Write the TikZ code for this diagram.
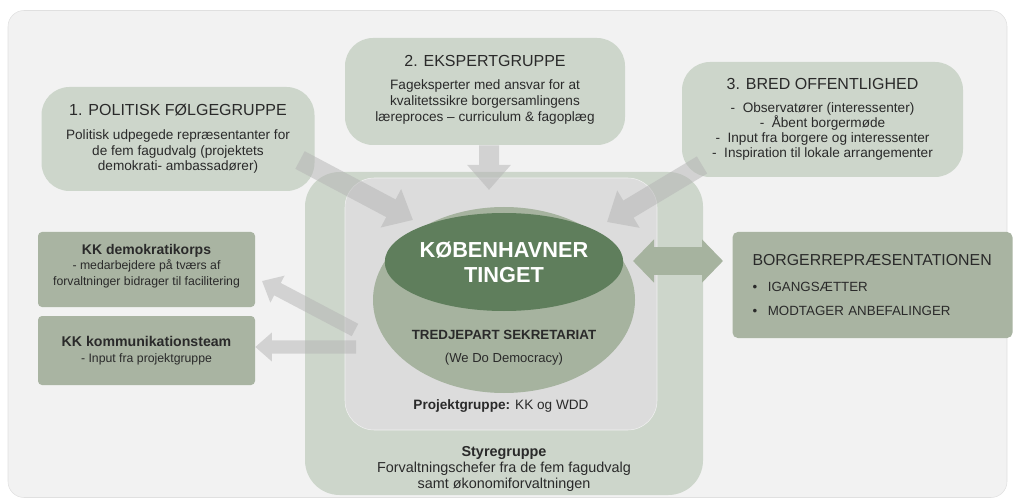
\documentclass[tikz,border=0pt]{standalone}
\usepackage{fontspec}
\setmainfont{Liberation Sans}
\usetikzlibrary{arrows.meta}
\usetikzlibrary{shapes.geometric}

\definecolor{bgframe}{HTML}{F2F2F2}
\definecolor{sagelight}{HTML}{CDD6CB}
\definecolor{sagemid}{HTML}{A6B39F}
\definecolor{sagedark}{HTML}{5F7E5C}
\definecolor{sagebox}{HTML}{A9B4A2}
\definecolor{projgrey}{HTML}{DCDCDC}
\definecolor{arrowgrey}{HTML}{B4B4B4}
\definecolor{txt}{HTML}{2A2A2A}

\begin{document}
\begin{tikzpicture}[x=0.75pt,y=-0.75pt,
    every node/.style={inner sep=0pt,text=txt},
    group/.style={fill=sagelight,rounded corners=21pt,align=center,font=\fontsize{10.2}{11.8}\selectfont},
    kkbox/.style={fill=sagebox,rounded corners=3pt,align=center,minimum width=162.75pt,font=\fontsize{9.2}{11.8}\selectfont},
    flow/.style={draw=arrowgrey,line width=#1,-{Triangle[length=0pt 1.25,width=0pt 2.1]}}]
    \useasboundingbox (0,0) rectangle (1013,502);
    \node[fill=bgframe,draw=black!12,rounded corners=12pt,minimum width=749.25pt,minimum height=365.25pt] (frame) at (507.5,254) {};
    \node[fill=sagelight,rounded corners=26pt,minimum width=298.5pt,minimum height=242.25pt] (styre) at (504,333.5) {};
    \node[fill=projgrey,draw=white!60!projgrey,rounded corners=22pt,minimum width=234pt,minimum height=189pt] (proj) at (501,304) {};
    \node[ellipse,fill=sagemid,minimum width=196.5pt,minimum height=139.5pt] (sekr) at (504,300) {};
    \node[ellipse,fill=sagedark,minimum width=174pt,minimum height=73.5pt,align=center,font=\fontsize{16.3}{19}\bfseries,text=white] (tinget) at (504,262) {KØBENHAVNER\\TINGET};
    \node[align=center,font=\fontsize{9.8}{12}\selectfont] (sekrtext) at (504,348) {{\fontsize{10}{12}\bfseries TREDJEPART SEKRETARIAT}\\[5pt](We Do Democracy)};
    \node[font=\fontsize{10.2}{12}\selectfont] (projtext) at (501,406) {\textbf{Projektgruppe:} KK og WDD};
    \node[align=center,font=\fontsize{10.8}{12}\selectfont] (styretext) at (504,469) {\textbf{Styregruppe}\\Forvaltningschefer fra de fem fagudvalg\\samt økonomiforvaltningen};
    \node[group,minimum width=204.75pt,minimum height=78pt] (pol) at (178,139) {{\fontsize{12}{14}\selectfont 1. POLITISK FØLGEGRUPPE}\\[6pt]Politisk udpegede repræsentanter for\\de fem fagudvalg (projektets\\demokrati- ambassadører)};
    \node[group,minimum width=210pt,minimum height=80.25pt,text depth=5pt] (ekspert) at (485,91.5) {{\fontsize{12}{14}\selectfont 2. EKSPERTGRUPPE}\\[6pt]Fageksperter med ansvar for at\\kvalitetssikre borgersamlingens\\læreproces – curriculum \& fagoplæg};
    \node[group,minimum width=210.75pt,minimum height=86.25pt,font=\fontsize{10.2}{11.3}\selectfont] (bred) at (822.5,119.5) {{\fontsize{12}{14}\selectfont 3. BRED OFFENTLIGHED}\\[6pt]- \ Observatører (interessenter)\\- \ Åbent borgermøde\\- \ Input fra borgere og interessenter\\- \ Inspiration til lokale arrangementer};
    \node[kkbox,minimum height=56.25pt,text depth=7pt] (korps) at (146.5,269.5) {{\fontsize{10.5}{12}\bfseries KK demokratikorps}\\- medarbejdere på tværs af\\forvaltninger bidrager til facilitering};
    \node[kkbox,minimum height=51.75pt] (komm) at (146.5,350.5) {{\fontsize{10.6}{12}\bfseries KK kommunikationsteam}\\- Input fra projektgruppe};
    \node[fill=sagebox,rounded corners=4pt,minimum width=210pt,minimum height=79.5pt,align=left,text width=180pt,font=\fontsize{10}{18}\selectfont] (borger) at (872.5,285) {{\fontsize{11.9}{14}\selectfont BORGERREPRÆSENTATIONEN}\\[2pt]\textbullet\hspace{8pt}IGANGSÆTTER\\\textbullet\hspace{8pt}MODTAGER ANBEFALINGER};
    \coordinate (t1) at (413,220);
    \coordinate (s1) at (300,160);
    \coordinate (t2) at (489,190);
    \coordinate (t3) at (607,222);
    \coordinate (s3) at (702,165);
    \coordinate (s4) at (355,330);
    \coordinate (t4) at (262,281);
    \coordinate (s5) at (356,347);
    \coordinate (d1) at (633,261);
    \coordinate (d2) at (723,261);
    \begin{scope}[transparency group,opacity=0.5]
    \draw[flow=15pt] (s1) -- (t1);
    \draw[flow=15pt] (ekspert.south -| t2) -- (t2);
    \draw[flow=15pt] (s3) -- (t3);
    \draw[flow=10.5pt] (s4) -- (t4);
    \draw[flow=10pt] (s5) -- (komm.east |- s5);
    \end{scope}
    \draw[draw=sagemid,line width=21pt,{Triangle[length=0pt 0.75,width=0pt 1.5]}-{Triangle[length=0pt 0.75,width=0pt 1.5]}] (d1) -- (d2);
\end{tikzpicture}
\end{document}
